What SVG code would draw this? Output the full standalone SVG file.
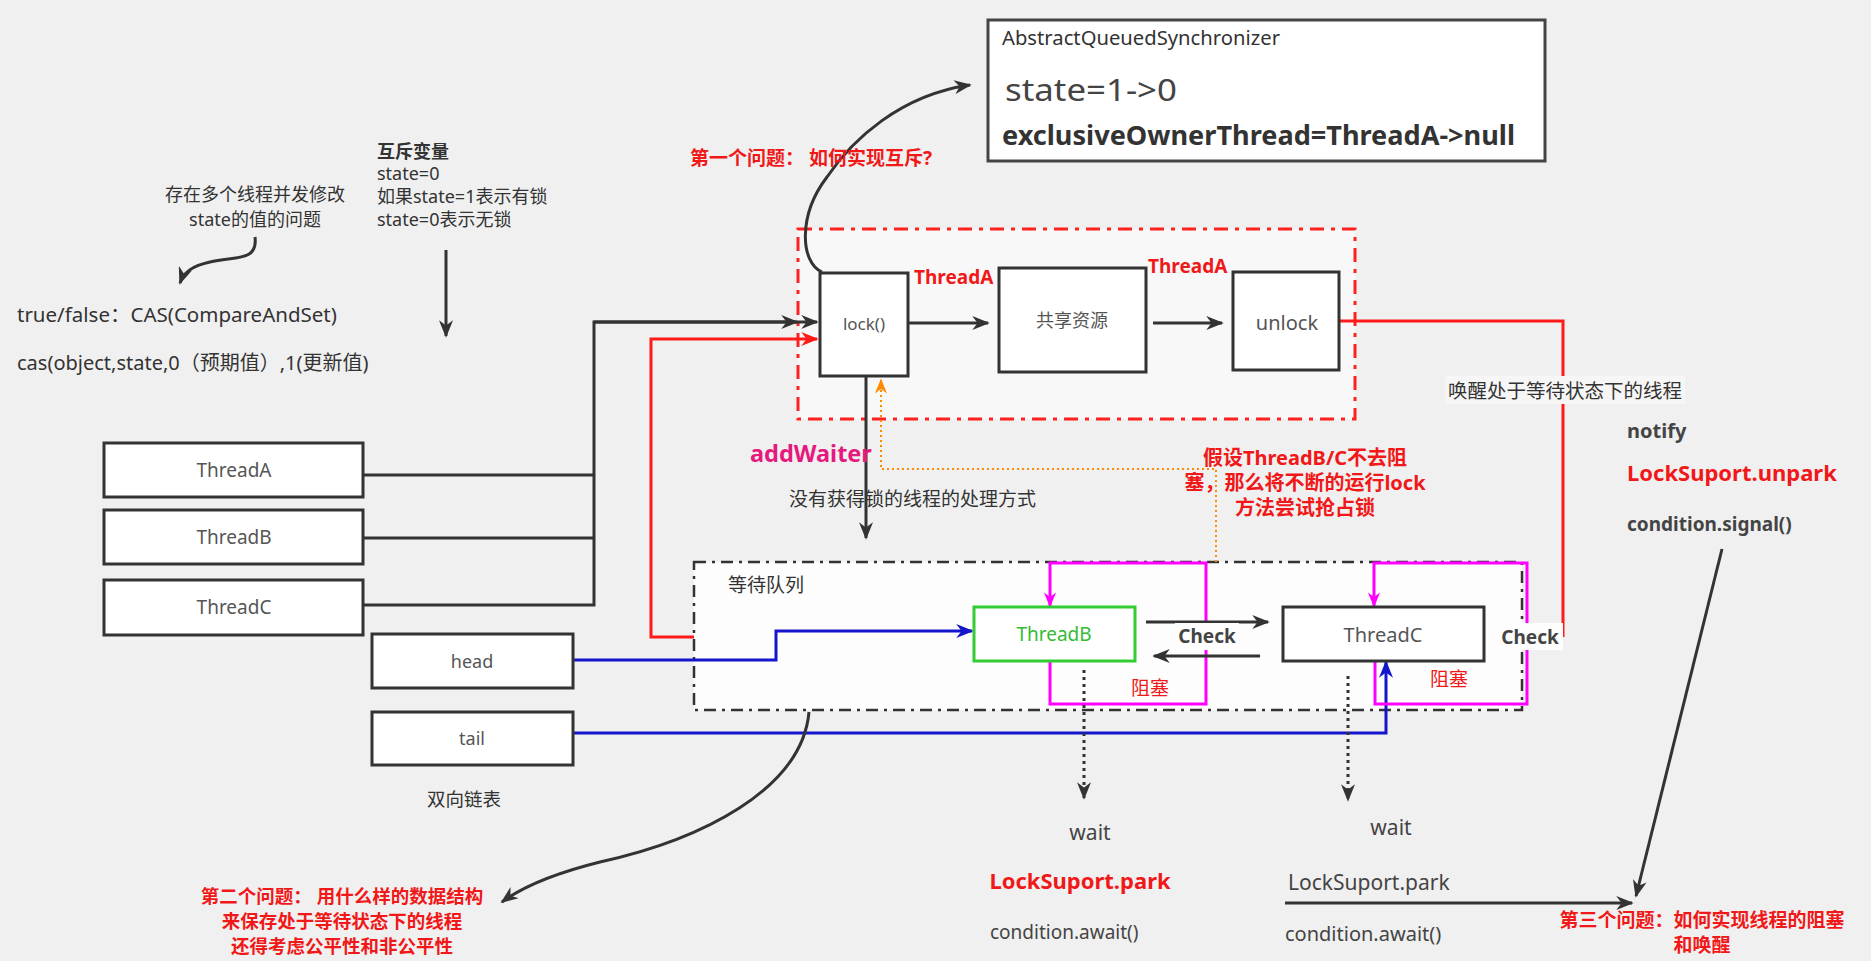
<svg xmlns="http://www.w3.org/2000/svg" width="1871" height="961" viewBox="0 0 1871 961">
<style>
text{font-family:"Noto Sans","Noto Sans CJK SC",sans-serif;fill:#333;dominant-baseline:central}
.box{fill:#fff;stroke:#333;stroke-width:3}
.lbl{font-size:18px;fill:#555}
.mid{text-anchor:middle}
.red{fill:#f01818;font-weight:bold}
.note{font-size:18px;fill:#333}
.conn{fill:none;stroke:#333;stroke-width:3}
</style>
<defs>
<marker id="ab" viewBox="0 0 10 8" refX="9" refY="4" markerWidth="18" markerHeight="14" markerUnits="userSpaceOnUse" orient="auto"><path d="M0,0 L10,4 L0,8 L3,4 z" fill="#333"/></marker>
<marker id="ar" viewBox="0 0 10 8" refX="9" refY="4" markerWidth="18" markerHeight="14" markerUnits="userSpaceOnUse" orient="auto"><path d="M0,0 L10,4 L0,8 L3,4 z" fill="#ff1a1a"/></marker>
<marker id="abl" viewBox="0 0 10 8" refX="9" refY="4" markerWidth="18" markerHeight="14" markerUnits="userSpaceOnUse" orient="auto"><path d="M0,0 L10,4 L0,8 L3,4 z" fill="#1515cc"/></marker>
<marker id="am" viewBox="0 0 10 8" refX="9" refY="4" markerWidth="16" markerHeight="12" markerUnits="userSpaceOnUse" orient="auto"><path d="M0,0 L10,4 L0,8 L3,4 z" fill="#ff00ff"/></marker>
<marker id="ao" viewBox="0 0 10 8" refX="9" refY="4" markerWidth="16" markerHeight="12" markerUnits="userSpaceOnUse" orient="auto"><path d="M0,0 L10,4 L0,8 L3,4 z" fill="#ff8c00"/></marker>
</defs>
<rect x="0" y="0" width="1871" height="961" fill="#f0f0f0"/>

<!-- containers -->
<g id="mutex-area">
<rect x="798" y="229" width="557" height="190" fill="#f8f8f8" stroke="#ff2020" stroke-width="3" stroke-dasharray="14 7 4 7"/>
</g>
<g id="wait-queue">
<rect x="694" y="562" width="828" height="148" fill="#fdfdfd" stroke="#333" stroke-width="2.5" stroke-dasharray="12 6 3 6"/>
<text class="note" x="728" y="585" style="font-size:19px">等待队列</text>
</g>

<!-- connectors -->
<g id="connectors">
<path class="conn" d="M363,475 H594"/>
<path class="conn" d="M363,538 H594"/>
<path class="conn" d="M363,605 H594 V322 H797" marker-end="url(#ab)"/>
<path class="conn" d="M594,322 H817" marker-end="url(#ab)"/>
<path d="M694,637 H651 V339 H817" fill="none" stroke="#ff1a1a" stroke-width="3" marker-end="url(#ar)"/>
<path class="conn" d="M909,323 H988" marker-end="url(#ab)"/>
<path class="conn" d="M1153,323 H1222" marker-end="url(#ab)"/>
<path class="conn" d="M866,376 V538" marker-end="url(#ab)"/>
<path d="M1216,562 V469 H881 V380" fill="none" stroke="#ff8c00" stroke-width="2" stroke-dasharray="2 3" marker-end="url(#ao)"/>
<path d="M1339,321 H1563 V637" fill="none" stroke="#ff1a1a" stroke-width="3"/>
<path d="M573,660 H776 V631 H972" fill="none" stroke="#1515cc" stroke-width="3" marker-end="url(#abl)"/>
<path d="M573,733 H1386 V662" fill="none" stroke="#1515cc" stroke-width="3" marker-end="url(#abl)"/>
<path d="M1050,661 V704 H1206 V563 H1050 V606" fill="none" stroke="#ff00ff" stroke-width="3" marker-end="url(#am)"/>
<path d="M1375,661 V704 H1527 V563 H1374 V606" fill="none" stroke="#ff00ff" stroke-width="3" marker-end="url(#am)"/>
<path class="conn" d="M1146,622 H1268" marker-end="url(#ab)"/>
<path class="conn" d="M1260,656 H1154" marker-end="url(#ab)"/>
<path class="conn" stroke-width="2.5" stroke-dasharray="3 4" d="M1084,670 V798" marker-end="url(#ab)"/>
<path class="conn" stroke-width="2.5" stroke-dasharray="3 4" d="M1348,676 V800" marker-end="url(#ab)"/>
<path class="conn" d="M1285,903 H1632" marker-end="url(#ab)"/>
<path class="conn" d="M1722,549 L1636,896" marker-end="url(#ab)"/>
<path class="conn" d="M822,272 C800,262 798,215 827,177 C852,140 900,95 970,85" marker-end="url(#ab)"/>
<path class="conn" d="M809,712 C802,790 700,840 600,862 C560,872 525,885 502,902" marker-end="url(#ab)"/>
<path class="conn" d="M255,237 C258,262 235,256 210,262 C192,266 184,272 180,283" marker-end="url(#ab)"/>
<path class="conn" d="M446,250 V336" marker-end="url(#ab)"/>
</g>

<!-- nodes -->
<g id="aqs">
<rect x="988" y="20" width="557" height="141" fill="#fff" stroke="#444" stroke-width="3"/>
<text x="1002" y="38" style="font-size:19px" textLength="278" lengthAdjust="spacingAndGlyphs">AbstractQueuedSynchronizer</text>
<text x="1005" y="89" style="font-size:30px;fill:#444" textLength="172" lengthAdjust="spacingAndGlyphs">state=1-&gt;0</text>
<text x="1002" y="134" style="font-size:27px;font-weight:bold" textLength="513" lengthAdjust="spacingAndGlyphs">exclusiveOwnerThread=ThreadA-&gt;null</text>
</g>
<g id="lock"><rect class="box" x="820" y="273" width="88" height="103"/><text class="lbl mid" x="864" y="323" style="font-size:17px">lock()</text></g>
<g id="shared"><rect class="box" x="999" y="268" width="147" height="104"/><text class="lbl mid" x="1072" y="320">共享资源</text></g>
<g id="unlock"><rect class="box" x="1233" y="272" width="106" height="98"/><text class="lbl mid" x="1287" y="322" style="font-size:20px">unlock</text></g>
<g id="threadA"><rect class="box" x="104" y="443" width="259" height="54"/><text class="lbl mid" x="234" y="470" style="font-size:19px">ThreadA</text></g>
<g id="threadB"><rect class="box" x="104" y="510" width="259" height="54"/><text class="lbl mid" x="234" y="537" style="font-size:19px">ThreadB</text></g>
<g id="threadC"><rect class="box" x="104" y="580" width="259" height="55"/><text class="lbl mid" x="234" y="607" style="font-size:19px">ThreadC</text></g>
<g id="head"><rect class="box" x="372" y="634" width="201" height="54"/><text class="lbl mid" x="472" y="661">head</text></g>
<g id="tail"><rect class="box" x="372" y="712" width="201" height="53"/><text class="lbl mid" x="472" y="738">tail</text></g>
<g id="q-threadB"><rect x="974" y="607" width="161" height="54" fill="#fff" stroke="#33cc33" stroke-width="3"/><text class="mid" x="1054" y="634" style="font-size:19px;fill:#33bb33">ThreadB</text></g>
<g id="q-threadC"><rect class="box" x="1283" y="607" width="201" height="54"/><text class="lbl mid" x="1383" y="634" style="font-size:20px">ThreadC</text></g>

<!-- labels -->
<g id="labels">
<text class="note mid" x="255" y="194">存在多个线程并发修改</text>
<text class="note mid" x="255" y="219">state的值的问题</text>
<text class="note" x="377" y="151" style="font-weight:bold">互斥变量</text>
<text class="note" x="377" y="173">state=0</text>
<text class="note" x="377" y="196">如果state=1表示有锁</text>
<text class="note" x="377" y="219">state=0表示无锁</text>
<text class="note" x="17" y="314" style="font-size:20.5px">true/false：CAS(CompareAndSet)</text>
<text class="note" x="17" y="362" style="font-size:20px">cas(object,state,0（预期值）,1(更新值)</text>
<text class="red" x="690" y="158" style="font-size:19px">第一个问题： 如何实现互斥?</text>
<text class="red" x="914" y="277" style="font-size:19px">ThreadA</text>
<text class="red" x="1148" y="266" style="font-size:19px">ThreadA</text>
<text x="750" y="453" style="font-size:23.5px;font-weight:bold;fill:#e6197e">addWaiter</text>
<text class="note" x="789" y="499" style="font-size:19px">没有获得锁的线程的处理方式</text>
<text class="red mid" x="1305" y="457" style="font-size:20px">假设ThreadB/C不去阻</text>
<text class="red mid" x="1305" y="482" style="font-size:20px">塞，那么将不断的运行lock</text>
<text class="red mid" x="1305" y="507" style="font-size:20px">方法尝试抢占锁</text>
<rect x="1445" y="376" width="240" height="28" fill="#f6f6f6"/>
<text class="note" x="1448" y="390" style="font-size:19.5px">唤醒处于等待状态下的线程</text>
<text class="note" x="1627" y="430" style="font-size:20px;font-weight:bold;fill:#444">notify</text>
<text class="red" x="1627" y="472" style="font-size:22px">LockSuport.unpark</text>
<text class="note" x="1627" y="524" style="font-size:19px;font-weight:bold;fill:#444">condition.signal()</text>
<rect x="1175" y="623" width="64" height="27" fill="#fdfdfd"/>
<text x="1207" y="636" class="mid" style="font-size:19px;font-weight:bold;fill:#444">Check</text>
<rect x="1499" y="623" width="64" height="27" fill="#fdfdfd"/>
<text x="1530" y="637" class="mid" style="font-size:19px;font-weight:bold;fill:#444">Check</text>
<text class="red" x="1131" y="688" style="font-size:19px;font-weight:normal">阻塞</text>
<text class="red" x="1430" y="679" style="font-size:19px;font-weight:normal">阻塞</text>
<text class="note" x="427" y="798" style="font-size:18.5px">双向链表</text>
<text class="note mid" x="1090" y="832" style="font-size:21px;fill:#444">wait</text>
<text class="red mid" x="1080" y="880" style="font-size:22px">LockSuport.park</text>
<text class="note" x="990" y="932" style="font-size:19px;fill:#444">condition.await()</text>
<text class="note mid" x="1391" y="827" style="font-size:21px;fill:#444">wait</text>
<text class="note" x="1288" y="882" style="font-size:21px;fill:#444">LockSuport.park</text>
<text class="note" x="1285" y="933" style="font-size:20px;fill:#444">condition.await()</text>
<text class="red mid" x="342" y="895" style="font-size:18.5px">第二个问题： 用什么样的数据结构</text>
<text class="red mid" x="342" y="920" style="font-size:18.5px">来保存处于等待状态下的线程</text>
<text class="red mid" x="342" y="945" style="font-size:18.5px">还得考虑公平性和非公平性</text>
<text class="red mid" x="1702" y="920" style="font-size:19px">第三个问题：如何实现线程的阻塞</text>
<text class="red mid" x="1702" y="945" style="font-size:19px">和唤醒</text>
</g>
</svg>
